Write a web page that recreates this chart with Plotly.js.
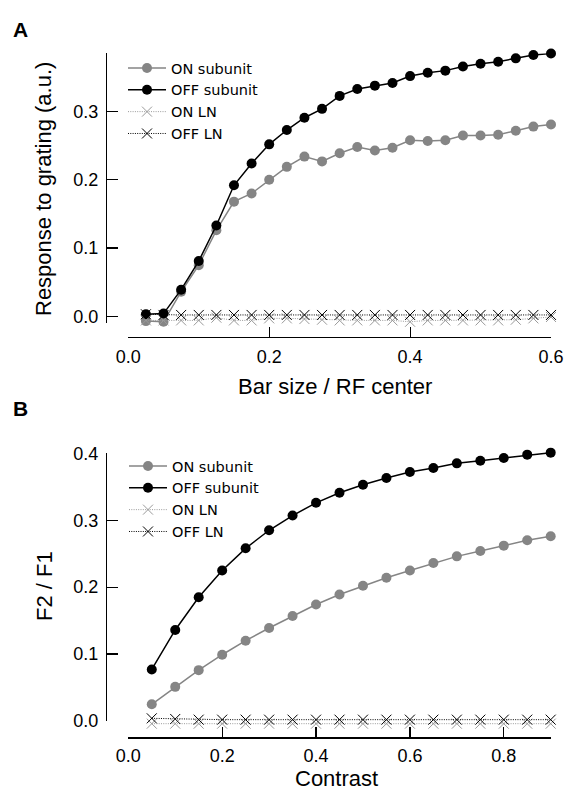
<!DOCTYPE html>
<html>
<head>
<meta charset="utf-8">
<script src="https://cdn.plot.ly/plotly-3.0.1.min.js"></script>
<style>html,body{margin:0;padding:0;background:#fff}#plot{width:567px;height:793px}</style>
</head>
<body>
<div id="plot"></div>
<script>
// ---- Panel A data: response vs bar size ----
const barSize = [0.025,0.05,0.075,0.1,0.125,0.15,0.175,0.2,0.225,0.25,0.275,0.3,0.325,0.35,0.375,0.4,0.425,0.45,0.475,0.5,0.525,0.55,0.575,0.6];
const onSubA  = [-0.007,-0.008,0.036,0.075,0.126,0.168,0.180,0.200,0.219,0.234,0.227,0.239,0.248,0.243,0.247,0.258,0.257,0.258,0.265,0.265,0.266,0.272,0.278,0.281];
const offSubA = [0.003,0.004,0.039,0.081,0.133,0.192,0.224,0.252,0.273,0.291,0.304,0.323,0.333,0.338,0.342,0.352,0.357,0.360,0.366,0.370,0.373,0.378,0.383,0.385];
const onLNA   = [-0.006,-0.006,-0.006,-0.006,-0.002,-0.006,-0.006,-0.003,-0.003,-0.004,-0.005,-0.006,-0.006,-0.006,-0.006,-0.008,-0.006,-0.006,-0.006,-0.006,-0.006,-0.005,-0.003,-0.001];
const offLNA  = [0.003,0.002,0.002,0.002,0.002,0.002,0.002,0.002,0.002,0.002,0.002,0.002,0.002,0.002,0.002,0.002,0.002,0.002,0.002,0.002,0.002,0.002,0.002,0.002];

// ---- Panel B data: F2/F1 vs contrast ----
const contrast = [0.05,0.1,0.15,0.2,0.25,0.3,0.35,0.4,0.45,0.5,0.55,0.6,0.65,0.7,0.75,0.8,0.85,0.9];
const onSubB  = [0.025,0.051,0.076,0.099,0.120,0.139,0.157,0.174,0.189,0.202,0.214,0.225,0.236,0.246,0.254,0.262,0.270,0.276];
const offSubB = [0.077,0.136,0.185,0.225,0.258,0.285,0.307,0.326,0.341,0.353,0.363,0.372,0.378,0.385,0.389,0.393,0.398,0.401];
const onLNB   = [-0.004,-0.004,-0.004,-0.004,-0.004,-0.004,-0.004,-0.004,-0.004,-0.004,-0.004,-0.004,-0.004,-0.004,-0.004,-0.004,-0.004,-0.004];
const offLNB  = [0.004,0.003,0.002,0.002,0.002,0.002,0.002,0.002,0.002,0.002,0.002,0.002,0.002,0.002,0.002,0.002,0.002,0.002];

const seriesNames = ['ON subunit','OFF subunit','ON LN','OFF LN'];
const tickA = [0,0.2,0.4,0.6];
const tickB = [0,0.2,0.4,0.6,0.8];
const tickYA = [0,0.1,0.2,0.3];
const tickYB = [0,0.1,0.2,0.3,0.4];

const W = 567, H = 793;
const px = v => v / W;
const py = v => 1 - v / H;

const GRAY = '#858585', LGRAY = '#9a9a9a';
const DOTS = '1px,1.3px';
function mk(x, y, name, kind, xa, ya, leg) {
  const base = {x: x, y: y, name: name, type: 'scatter', mode: 'lines+markers',
    xaxis: xa, yaxis: ya, legend: leg, cliponaxis: false};
  if (kind === 'onSub') {
    base.line = {color: GRAY, width: 1.5};
    base.marker = {symbol: 'circle', size: 10, color: GRAY};
  } else if (kind === 'offSub') {
    base.line = {color: '#000', width: 1.5};
    base.marker = {symbol: 'circle', size: 10, color: '#000'};
  } else if (kind === 'onLN') {
    base.line = {color: LGRAY, width: 1, dash: DOTS};
    base.marker = {symbol: 'x-thin-open', size: 10, color: LGRAY, line: {color: LGRAY, width: 1}};
  } else {
    base.line = {color: '#000', width: 1, dash: DOTS};
    base.marker = {symbol: 'x-thin-open', size: 10, color: '#000', line: {color: '#000', width: 1}};
  }
  return base;
}

// Panel B: y2 is a hidden data axis with a slightly padded range (so edge points are not hidden);
// y3 is the visible axis spanning exactly 0..0.4, on the same pixel scale.
const data = [
  mk(barSize, onSubA, seriesNames[0], 'onSub', 'x', 'y', 'legend'),
  mk(barSize, offSubA, seriesNames[1], 'offSub', 'x', 'y', 'legend'),
  mk(barSize, onLNA, seriesNames[2], 'onLN', 'x', 'y', 'legend'),
  mk(barSize, offLNA, seriesNames[3], 'offLN', 'x', 'y', 'legend'),
  mk(contrast, onSubB, seriesNames[0], 'onSub', 'x2', 'y3', 'legend2'),
  mk(contrast, offSubB, seriesNames[1], 'offSub', 'x2', 'y2', 'legend2'),
  mk(contrast, onLNB, seriesNames[2], 'onLN', 'x2', 'y2', 'legend2'),
  mk(contrast, offLNB, seriesNames[3], 'offLN', 'x2', 'y3', 'legend2')
];

const tickFont = {family: 'Liberation Sans, Arial, sans-serif', size: 18, color: '#000'};
const axCommon = {showgrid: false, zeroline: false, showline: true, linecolor: '#000', linewidth: 1.2,
  ticks: 'inside', tickcolor: '#000', tickwidth: 1.2, tickfont: tickFont, fixedrange: true, tickformat: '.1f'};

const legFont = {family: 'DejaVu Sans, sans-serif', size: 14.5, color: '#000'};
const titleFont = {family: 'Liberation Sans, Arial, sans-serif', size: 22, color: '#000'};

// pixel scale of panel B y axis
const bY0 = 721, bY1 = 453.3, bPer = (bY0 - bY1) / 0.4;
const bRange = [-0.006, 0.403];

const layout = {
  width: W, height: H,
  margin: {l: 0, r: 0, t: 0, b: 0},
  paper_bgcolor: '#fff', plot_bgcolor: 'rgba(0,0,0,0)',
  showlegend: true,
  xaxis: Object.assign({}, axCommon, {domain: [px(128.3), px(551)], range: [0, 0.6], tickvals: tickA,
    anchor: 'free', position: py(336.7), ticklen: 10, ticklabelstandoff: 3}),
  yaxis: Object.assign({}, axCommon, {domain: [py(323), py(53.3)], range: [-0.0098, 0.3854], tickvals: tickYA,
    anchor: 'free', position: px(106), ticklen: 11, ticklabelstandoff: 4}),
  xaxis2: Object.assign({}, axCommon, {domain: [px(128.3), px(550.7)], range: [0, 0.9], tickvals: tickB,
    anchor: 'free', position: py(737.3), ticklen: 10, ticklabelstandoff: 2}),
  yaxis2: {visible: false, fixedrange: true, anchor: 'free', position: px(106),
    domain: [py(bY0 - bRange[0] * bPer), py(bY1 - (bRange[1] - 0.4) * bPer)], range: bRange},
  yaxis3: Object.assign({}, axCommon, {domain: [py(bY0), py(bY1)], range: [0, 0.4], tickvals: tickYB,
    anchor: 'free', position: px(106), ticklen: 11, ticklabelstandoff: 4}),
  legend: {x: px(123), y: py(52), xanchor: 'left', yanchor: 'top', font: legFont, bgcolor: 'rgba(0,0,0,0)', borderwidth: 0, itemwidth: 38},
  legend2: {x: px(124), y: py(450), xanchor: 'left', yanchor: 'top', font: legFont, bgcolor: 'rgba(0,0,0,0)', borderwidth: 0, itemwidth: 38},
  annotations: [
    {text: '<b>A</b>', xref: 'paper', yref: 'paper', x: px(11), y: py(30), xanchor: 'left', yanchor: 'middle', showarrow: false,
      font: {family: 'Liberation Sans, Arial, sans-serif', size: 21, color: '#000'}},
    {text: '<b>B</b>', xref: 'paper', yref: 'paper', x: px(11), y: py(408.5), xanchor: 'left', yanchor: 'middle', showarrow: false,
      font: {family: 'Liberation Sans, Arial, sans-serif', size: 21, color: '#000'}},
    {text: 'Bar size / RF center', xref: 'paper', yref: 'paper', x: px(334.7), y: py(386.5), xanchor: 'center', yanchor: 'middle', showarrow: false, font: titleFont},
    {text: 'Response to grating (a.u.)', xref: 'paper', yref: 'paper', x: px(43), y: py(189), xanchor: 'center', yanchor: 'middle', textangle: -90, showarrow: false, font: titleFont},
    {text: 'Contrast', xref: 'paper', yref: 'paper', x: px(336), y: 0, xanchor: 'center', yanchor: 'bottom', showarrow: false, font: titleFont},
    {text: 'F2 / F1', xref: 'paper', yref: 'paper', x: px(44), y: py(586), xanchor: 'center', yanchor: 'middle', textangle: -90, showarrow: false, font: titleFont}
  ]
};

Plotly.newPlot('plot', data, layout, {displayModeBar: false, staticPlot: true});
</script>
</body>
</html>
